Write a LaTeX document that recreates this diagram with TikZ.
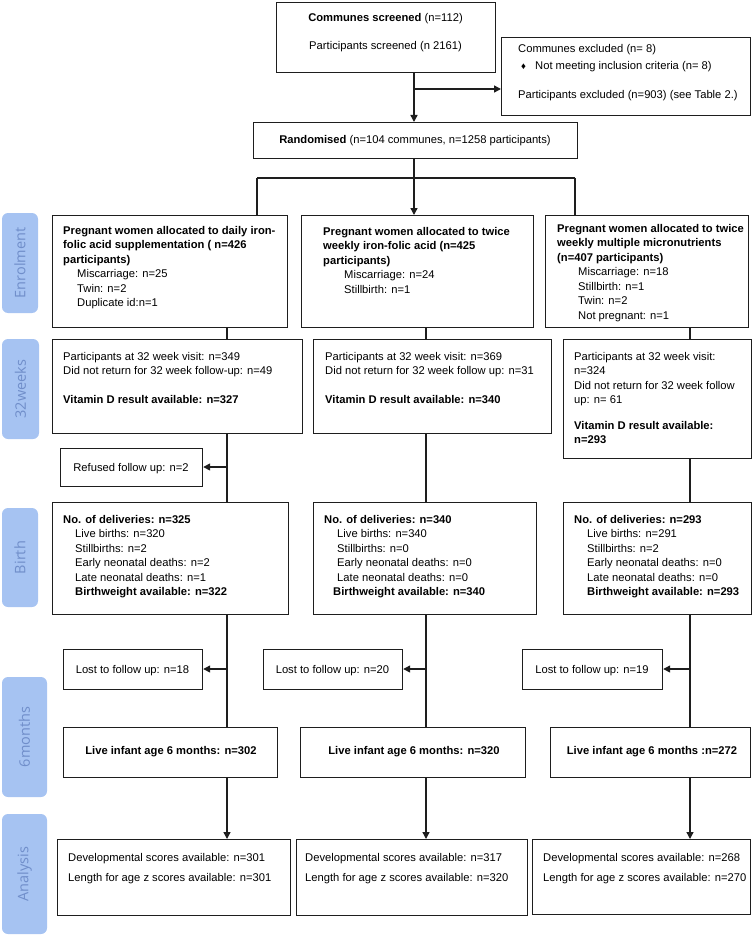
\documentclass[tikz,border=0pt]{standalone}
\usepackage{fontspec}
\setmainfont{Liberation Sans}
\newfontfamily\labfont{Open Sans}
\usetikzlibrary{arrows.meta}
\definecolor{labfill}{RGB}{166,195,242}
\definecolor{labtext}{RGB}{112,142,202}
\definecolor{ink}{RGB}{30,30,30}
\tikzset{
 box/.style={draw=ink, line width=1.2pt, anchor=north west, inner sep=0pt, fill=white},
 txt/.style={anchor=base west, inner sep=0pt, font=\fontsize{11.2}{14.5}\selectfont, text=black},
 ctxt/.style={anchor=base, inner sep=0pt, font=\fontsize{11.2}{14.5}\selectfont, text=black},
 conn/.style={draw=ink, line width=1.4pt},
 arr/.style={conn, -{Triangle[length=7pt,width=7pt]}},
 sidelab/.style={fill=labfill, rounded corners=6pt, rotate=90, text=labtext, font=\labfont\fontsize{14.5}{14.5}\selectfont, inner sep=0pt},
}
\newcommand\bx[5]{\node[box, minimum width={(#4-#2)*1pt}, minimum height={(#5-#3)*1pt}] (#1) at (#2,#3) {};}
\newcommand\ind[1]{\hspace*{#1pt}}
\begin{document}
\begin{tikzpicture}[x=1pt,y=-1pt]
\useasboundingbox (0,0) rectangle (753,936);
% side labels
\node[sidelab, minimum width=100pt, minimum height=36pt] (sEn) at (20,263) {Enrolment};
\node[sidelab, minimum width=100pt, minimum height=37pt] (sWk) at (20.5,389) {32weeks};
\node[sidelab, minimum width=99pt, minimum height=36pt] (sBi) at (20,557.5) {Birth};
\node[sidelab, minimum width=120pt, minimum height=45pt] (sMo) at (24.5,737) {6months};
\node[sidelab, minimum width=120pt, minimum height=45pt] (sAn) at (24.5,874) {Analysis};
% boxes
\bx{scr}{276}{2}{495}{72}
\bx{excl}{501}{37}{750}{115}
\bx{rand}{253}{122}{577}{158}
\bx{enL}{52}{215}{287}{327}
\bx{enM}{301}{215}{533}{327}
\bx{enR}{545}{215}{748}{327}
\bx{wkL}{52}{339}{302}{433}
\bx{wkM}{313}{339}{551}{433}
\bx{wkR}{563}{339}{751}{458}
\bx{ref}{60}{448}{202}{486}
\bx{biL}{52}{502}{288}{614}
\bx{biM}{313}{502}{536}{614}
\bx{biR}{563}{502}{751}{614}
\bx{loL}{63}{649}{202}{689}
\bx{loM}{263}{649}{402}{689}
\bx{loR}{522}{649}{662}{689}
\bx{moL}{63}{727}{277}{777}
\bx{moM}{300}{727}{525}{777}
\bx{moR}{550}{727}{750}{777}
\bx{anL}{57}{839}{290}{915}
\bx{anM}{296}{839}{527}{915}
\bx{anR}{532}{839}{750}{914}
% texts
\node[ctxt] (tscr1) at (385.5,22) {\textbf{Communes screened} (n=112)};
\node[ctxt] (tscr2) at (385.5,50) {Participants screened (n 2161)};
\node[txt] (texcl) at (518,53) {\parbox[t]{230pt}{Communes excluded (n= 8)\\[2.5pt]
\ind{3}\makebox[14pt][l]{\fontsize{9.5}{9.5}\selectfont ♦}Not meeting inclusion criteria (n= 8)\\[14.5pt]
Participants excluded (n=903) (see Table 2.)}};
\node[ctxt] (trand) at (415,144) {\textbf{Randomised} (n=104 communes, n=1258 participants)};
\node[txt] (tenL) at (63,234) {\parbox[t]{230pt}{\textbf{Pregnant women allocated to daily iron-}\\
\textbf{folic acid supplementation ( n=426}\\
\textbf{participants)}\\
\ind{14}Miscarriage: n=25\\
\ind{14}Twin: n=2\\
\ind{14}Duplicate id:n=1}};
\node[txt] (tenM) at (323,235) {\parbox[t]{230pt}{\textbf{Pregnant women allocated to twice}\\
\textbf{weekly iron-folic acid (n=425}\\
\textbf{participants)}\\
\ind{21}Miscarriage: n=24\\
\ind{21}Stillbirth: n=1}};
\node[txt] (tenR) at (557,232) {\parbox[t]{230pt}{\textbf{Pregnant women allocated to twice}\\
\textbf{weekly multiple micronutrients}\\
\textbf{(n=407 participants)}\\
\ind{21}Miscarriage: n=18\\
\ind{21}Stillbirth: n=1\\
\ind{21}Twin: n=2\\
\ind{21}Not pregnant: n=1}};
\node[txt] (twkL) at (63,360) {\parbox[t]{240pt}{Participants at 32 week visit: n=349\\
Did not return for 32 week follow-up: n=49\\[14.5pt]
\textbf{Vitamin D result available: n=327}}};
\node[txt] (twkM) at (325,360) {\parbox[t]{230pt}{Participants at 32 week visit: n=369\\
Did not return for 32 week follow up: n=31\\[14.5pt]
\textbf{Vitamin D result available: n=340}}};
\node[txt] (twkR) at (574,360) {\parbox[t]{200pt}{Participants at 32 week visit:\\
n=324\\
Did not return for 32 week follow\\
up: n= 61\\[11pt]
\textbf{Vitamin D result available:}\\
\textbf{n=293}}};
\node[ctxt] (tref) at (131,471) {Refused follow up: n=2};
\node[txt] (tbiL) at (63,523) {\parbox[t]{230pt}{\textbf{No. of deliveries: n=325}\\
\ind{12}Live births: n=320\\
\ind{12}Stillbirths: n=2\\
\ind{12}Early neonatal deaths: n=2\\
\ind{12}Late neonatal deaths: n=1\\
\ind{12}\textbf{Birthweight available: n=322}}};
\node[txt] (tbiM) at (324,523) {\parbox[t]{230pt}{\textbf{No. of deliveries: n=340}\\
\ind{13}Live births: n=340\\
\ind{13}Stillbirths: n=0\\
\ind{13}Early neonatal deaths: n=0\\
\ind{13}Late neonatal deaths: n=0\\
\ind{9}\textbf{Birthweight available: n=340}}};
\node[txt] (tbiR) at (574,523) {\parbox[t]{230pt}{\textbf{No. of deliveries: n=293}\\
\ind{13}Live births: n=291\\
\ind{13}Stillbirths: n=2\\
\ind{13}Early neonatal deaths: n=0\\
\ind{13}Late neonatal deaths: n=0\\
\ind{13}\textbf{Birthweight available: n=293}}};
\node[ctxt] (tloL) at (132.5,673) {Lost to follow up: n=18};
\node[ctxt] (tloM) at (332.5,673) {Lost to follow up: n=20};
\node[ctxt] (tloR) at (592,673) {Lost to follow up: n=19};
\node[ctxt] (tmoL) at (171,754) {\textbf{Live infant age 6 months: n=302}};
\node[ctxt] (tmoM) at (414,754) {\textbf{Live infant age 6 months: n=320}};
\node[ctxt] (tmoR) at (652,754) {\textbf{Live infant age 6 months :n=272}};
\node[txt] (tanL) at (68,861) {\parbox[t]{230pt}{Developmental scores available: n=301\\[5.5pt]
Length for age z scores available: n=301}};
\node[txt] (tanM) at (305,861) {\parbox[t]{230pt}{Developmental scores available: n=317\\[5.5pt]
Length for age z scores available: n=320}};
\node[txt] (tanR) at (543,861) {\parbox[t]{230pt}{Developmental scores available: n=268\\[5.5pt]
Length for age z scores available: n=270}};
% connector coordinates
\coordinate (c0) at (414,0);
\coordinate (jA) at (414,89);
\coordinate (jB) at (414,178);
\coordinate (bL) at (257,178);
\coordinate (bR) at (575,178);
\coordinate (cL) at (227,0);
\coordinate (cM) at (426,0);
\coordinate (cR) at (690,0);
\coordinate (rL) at (227,467);
\coordinate (lL) at (227,669);
\coordinate (lM) at (426,669);
\coordinate (lR) at (690,669);
% connectors
\draw[arr] (scr.south -| c0) -- (rand.north -| c0);
\draw[arr] (jA) -- (jA -| excl.west);
\draw[conn] (rand.south -| c0) -- (jB);
\draw[conn] (bL) -- (bR);
\draw[conn] (bL) -- (bL |- enL.north);
\draw[arr] (jB) -- (enM.north -| c0);
\draw[conn] (bR) -- (bR |- enR.north);
\draw[conn] (enL.south -| cL) -- (wkL.north -| cL);
\draw[conn] (enM.south -| cM) -- (wkM.north -| cM);
\draw[conn] (enR.south -| cR) -- (wkR.north -| cR);
\draw[conn] (wkL.south -| cL) -- (biL.north -| cL);
\draw[conn] (wkM.south -| cM) -- (biM.north -| cM);
\draw[conn] (wkR.south -| cR) -- (biR.north -| cR);
\draw[arr] (rL) -- (rL -| ref.east);
\draw[conn] (biL.south -| cL) -- (moL.north -| cL);
\draw[conn] (biM.south -| cM) -- (moM.north -| cM);
\draw[conn] (biR.south -| cR) -- (moR.north -| cR);
\draw[arr] (lL) -- (lL -| loL.east);
\draw[arr] (lM) -- (lM -| loM.east);
\draw[arr] (lR) -- (lR -| loR.east);
\draw[arr] (moL.south -| cL) -- (anL.north -| cL);
\draw[arr] (moM.south -| cM) -- (anM.north -| cM);
\draw[arr] (moR.south -| cR) -- (anR.north -| cR);
\end{tikzpicture}
\end{document}
